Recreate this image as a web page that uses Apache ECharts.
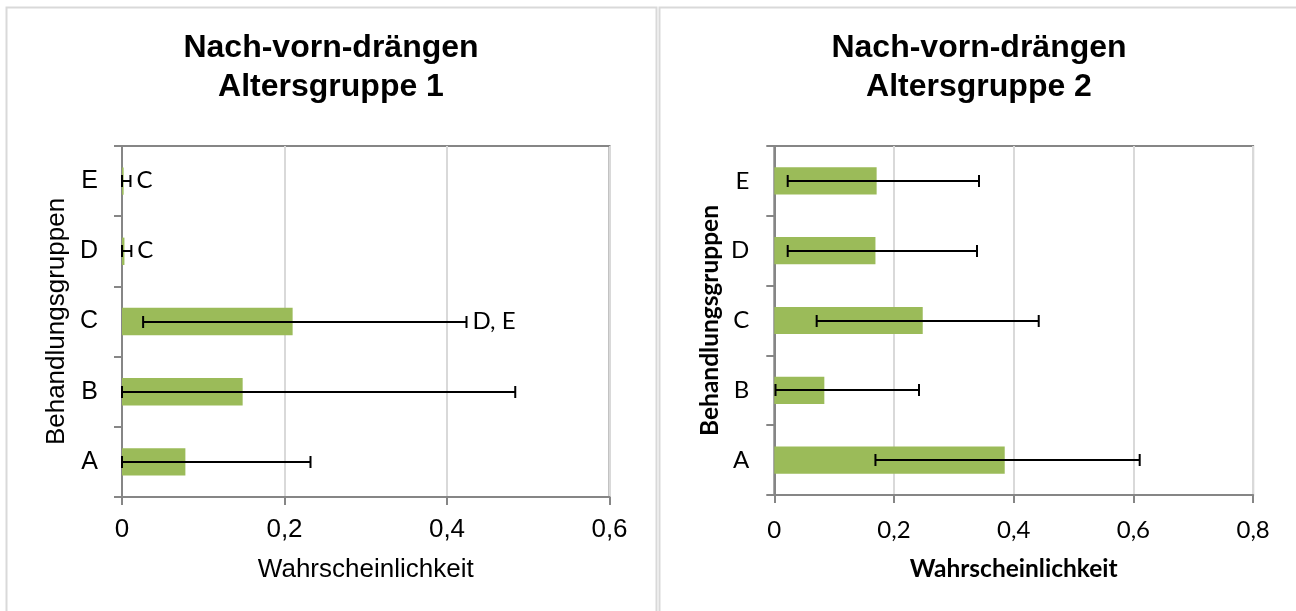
<!DOCTYPE html>
<html>
<head>
<meta charset="utf-8">
<script src="https://cdn.jsdelivr.net/npm/echarts@6/dist/echarts.min.js"></script>
<style>
html,body{margin:0;padding:0;background:#fff;}
#chart{width:1296px;height:611px;}
</style>
</head>
<body>
<div id="chart"></div>
<script>
// ---- data ----
const categories = ['A', 'B', 'C', 'D', 'E'];
const title1 = 'Nach-vorn-drängen\nAltersgruppe 1';
const title2 = 'Nach-vorn-drängen\nAltersgruppe 2';
const yName = 'Behandlungsgruppen';
const xName = 'Wahrscheinlichkeit';

// Altersgruppe 1
const bar1 = [0.078, 0.1485, 0.210, 0.003, 0.002];
const errLow1 = [0.0, 0.0, 0.026, 0.0, 0.0];
const errHigh1 = [0.232, 0.484, 0.424, 0.0115, 0.0104];
const sig1 = ['', '', 'D, E', 'C', 'C'];
const xMax1 = 0.6;

// Altersgruppe 2
const bar2 = [0.385, 0.0836, 0.248, 0.169, 0.171];
const errLow2 = [0.169, 0.002, 0.0708, 0.0224, 0.0224];
const errHigh2 = [0.6105, 0.2418, 0.4418, 0.3387, 0.342];
const sig2 = ['', '', '', '', ''];
const xMax2 = 0.8;

const xStep = 0.2;

// ---- chart ----
const chart = echarts.init(document.getElementById('chart'), null, {renderer: 'canvas'});

const fmt = v => (v === 0 ? '0' : (+v).toFixed(1).replace('.', ','));
const AXIS = '#868686';
const GRIDC = '#d9d9d9';
const GREEN = '#9bbb59';

function errRenderer(labels, labelFont) {
  return function (params, api) {
    const ci = api.value(0);
    const lo = api.coord([api.value(1), ci]);
    const hi = api.coord([api.value(2), ci]);
    const y = Math.round(lo[1]);
    const cap = 6;
    const st = {stroke: '#000', lineWidth: 2};
    const children = [
      {type: 'line', shape: {x1: lo[0], y1: y, x2: hi[0], y2: y}, style: st},
      {type: 'line', shape: {x1: lo[0], y1: y - cap, x2: lo[0], y2: y + cap}, style: st},
      {type: 'line', shape: {x1: hi[0], y1: y - cap, x2: hi[0], y2: y + cap}, style: st}
    ];
    const lab = labels[params.dataIndex];
    if (lab) {
      children.push({
        type: 'text',
        style: {text: lab, x: hi[0] + 6, y: y - 1, align: 'left', verticalAlign: 'middle',
                font: labelFont, fill: '#000'}
      });
    }
    return {type: 'group', children};
  };
}

function makeErrData(lo, hi) {
  return categories.map((c, i) => [i, lo[i], hi[i]]);
}

const leftFont = 'Liberation Sans';
const rightFont = 'Lato';

const option = {
  backgroundColor: '#fff',
  animation: false,
  graphic: [
    {type: 'rect', shape: {x: 6.5, y: 7.5, width: 650, height: 640}, style: {fill: 'none', stroke: GRIDC, lineWidth: 2}, z: -10},
    {type: 'rect', shape: {x: 659.5, y: 7.5, width: 700, height: 640}, style: {fill: 'none', stroke: GRIDC, lineWidth: 2}, z: -10},
    {type: 'text', style: {text: title1, x: 331, y: 68, align: 'center', verticalAlign: 'middle',
      font: 'bold 32px "Liberation Sans"', lineHeight: 39, fill: '#000'}},
    {type: 'text', style: {text: title2, x: 979, y: 68, align: 'center', verticalAlign: 'middle',
      font: 'bold 32px "Liberation Sans"', lineHeight: 39, fill: '#000'}}
  ],
  grid: [
    {left: 122, top: 146, width: 487.5, height: 351, show: true, borderColor: AXIS, borderWidth: 2, backgroundColor: 'transparent'},
    {left: 774.3, top: 146, width: 478.8, height: 349, show: true, borderColor: AXIS, borderWidth: 2, backgroundColor: 'transparent'}
  ],
  xAxis: [
    {gridIndex: 0, type: 'value', min: 0, max: xMax1, interval: xStep,
     name: xName, nameLocation: 'middle', nameGap: 60,
     nameTextStyle: {fontFamily: leftFont, fontSize: 26, color: '#000'},
     axisLine: {show: true, lineStyle: {color: AXIS, width: 2}},
     axisTick: {show: true, length: 8, lineStyle: {color: AXIS, width: 2}},
     axisLabel: {formatter: fmt, margin: 20, fontFamily: leftFont, fontSize: 26, color: '#000'},
     splitLine: {show: true, lineStyle: {color: GRIDC, width: 2}}},
    {gridIndex: 1, type: 'value', min: 0, max: xMax2, interval: xStep,
     name: xName, nameLocation: 'middle', nameGap: 62,
     nameTextStyle: {fontFamily: rightFont, fontSize: 24.5, fontWeight: 'bold', color: '#000'},
     axisLine: {show: true, lineStyle: {color: AXIS, width: 2}},
     axisTick: {show: true, length: 8, lineStyle: {color: AXIS, width: 2}},
     axisLabel: {formatter: fmt, margin: 23, fontFamily: rightFont, fontSize: 24, color: '#000'},
     splitLine: {show: true, lineStyle: {color: GRIDC, width: 2}}}
  ],
  yAxis: [
    {gridIndex: 0, type: 'category', data: categories,
     name: yName, nameLocation: 'middle', nameGap: 52, nameRotate: 90,
     nameTextStyle: {fontFamily: leftFont, fontSize: 26, color: '#000'},
     axisLine: {show: true, lineStyle: {color: AXIS, width: 2}},
     axisTick: {show: true, length: 8, lineStyle: {color: AXIS, width: 2}},
     axisLabel: {margin: 24, fontFamily: leftFont, fontSize: 25, color: '#000'},
     splitLine: {show: false}},
    {gridIndex: 1, type: 'category', data: categories,
     name: yName, nameLocation: 'middle', nameGap: 52, nameRotate: 90,
     nameTextStyle: {fontFamily: rightFont, fontSize: 24.5, fontWeight: 'bold', color: '#000'},
     axisLine: {show: true, lineStyle: {color: AXIS, width: 2}},
     axisTick: {show: true, length: 8, lineStyle: {color: AXIS, width: 2}},
     axisLabel: {margin: 25, fontFamily: rightFont, fontSize: 24, color: '#000'},
     splitLine: {show: false}}
  ],
  series: [
    {type: 'bar', xAxisIndex: 0, yAxisIndex: 0, data: bar1, barWidth: '39%',
     itemStyle: {color: GREEN}, z: 2},
    {type: 'custom', xAxisIndex: 0, yAxisIndex: 0, data: makeErrData(errLow1, errHigh1),
     encode: {x: [1, 2], y: 0}, renderItem: errRenderer(sig1, '24px Lato'), z: 5},
    {type: 'bar', xAxisIndex: 1, yAxisIndex: 1, data: bar2, barWidth: '39%',
     itemStyle: {color: GREEN}, z: 2},
    {type: 'custom', xAxisIndex: 1, yAxisIndex: 1, data: makeErrData(errLow2, errHigh2),
     encode: {x: [1, 2], y: 0}, renderItem: errRenderer(sig2, '24px Lato'), z: 5}
  ]
};
chart.setOption(option);
</script>
</body>
</html>
